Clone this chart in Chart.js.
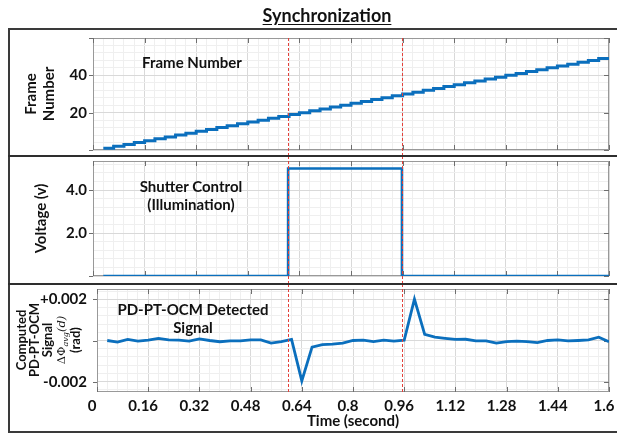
<!DOCTYPE html>
<html>
<head>
<meta charset="utf-8">
<script src="https://cdn.jsdelivr.net/npm/chart.js@4.4.1/dist/chart.umd.min.js"></script>
<style>
html,body{margin:0;padding:0;background:#fff;}
#wrap{position:relative;width:617px;height:434px;overflow:hidden;background:#fff;font-family:Lato,'Open Sans',sans-serif;color:#111;}
canvas{position:absolute;left:0;}
.frame{position:absolute;left:8px;top:28px;width:700px;height:405px;border:2px solid #3a3a3a;box-sizing:border-box;pointer-events:none;}
.sep{position:absolute;left:8px;width:700px;height:2px;background:#2e2e2e;pointer-events:none;}
.lbl{position:absolute;font-weight:bold;text-align:center;white-space:nowrap;line-height:18px;font-size:15px;}
#title{position:absolute;left:177px;width:300px;top:4px;text-align:center;font-weight:bold;font-size:18px;line-height:22px;text-decoration:underline;text-underline-offset:2px;}
#y3title{position:absolute;left:-11px;top:306px;width:120px;height:68px;transform:rotate(-90deg);transform-origin:60px 34px;text-align:center;font-weight:bold;font-size:13px;}
#y3title div{height:13px;line-height:13px;white-space:nowrap;}
#y3title .math{height:15px;line-height:15px;font-family:'DejaVu Serif',serif;font-weight:normal;font-size:11.5px;}
</style>
</head>
<body>
<div id="wrap">
  <canvas id="c1" width="617" height="156" style="top:0px"></canvas>
  <canvas id="c2" width="617" height="128" style="top:156px"></canvas>
  <canvas id="c3" width="617" height="150" style="top:284px"></canvas>
  <div class="frame"></div>
  <div class="sep" style="top:155px"></div>
  <div class="sep" style="top:283px"></div>
  <div id="title">Synchronization</div>
  <div class="lbl" style="left:92px;width:200px;top:53px;">Frame Number</div>
  <div class="lbl" style="left:91px;width:200px;top:177px;">Shutter Control<br>(Illumination)</div>
  <div class="lbl" style="left:93px;width:200px;top:300px;">PD-PT-OCM Detected<br>Signal</div>
  <div id="y3title">
    <div>Computed</div>
    <div>PD-PT-OCM</div>
    <div>Signal</div>
    <div class="math">&Delta;&Phi;<i><sub style="font-size:8px">avg</sub>(d)</i></div>
    <div>(rad)</div>
  </div>
</div>
<script>
// ---------------- data ----------------
const frameTimes = [0.032,0.064,0.096,0.128,0.16,0.192,0.224,0.256,0.288,0.32,
  0.352,0.384,0.416,0.448,0.48,0.512,0.544,0.576,0.608,0.64,
  0.672,0.704,0.736,0.768,0.8,0.832,0.864,0.896,0.928,0.96,
  0.992,1.024,1.056,1.088,1.12,1.152,1.184,1.216,1.248,1.28,
  1.312,1.344,1.376,1.408,1.44,1.472,1.504,1.536,1.568,1.6];
const frameNumbers = [1,2,3,4,5,6,7,8,9,10,
  11,12,13,14,15,16,17,18,19,20,
  21,22,23,24,25,26,27,28,29,30,
  31,32,33,34,35,36,37,38,39,40,
  41,42,43,44,45,46,47,48,49,49];

const shutterTimes = [0.032, 0.605, 0.605, 0.958, 0.958, 1.6];
const shutterVolts = [0, 0, 5, 5, 0, 0];

const signalTimes = [0.032,0.064,0.096,0.128,0.16,0.192,0.224,0.256,0.288,0.32,
  0.352,0.384,0.416,0.448,0.48,0.512,0.544,0.576,0.608,0.64,
  0.672,0.704,0.736,0.768,0.8,0.832,0.864,0.896,0.928,0.96,
  0.992,1.024,1.056,1.088,1.12,1.152,1.184,1.216,1.248,1.28,
  1.312,1.344,1.376,1.408,1.44,1.472,1.504,1.536,1.568,1.6];
const signalValues = [0,-0.00008,0.00005,-0.00003,0.00002,0.0001,0.00003,0.00002,-0.00003,0.00008,
  0,-0.00006,-0.00002,-0.00002,0.00003,0.00003,-0.00013,-0.00005,0.00005,-0.00196,
  -0.00032,-0.0002,-0.00018,-0.00013,0,0.00002,-0.00005,0.00002,-0.00003,0.00002,
  0.00201,0.0003,0.00016,0.0001,0.00005,0.00006,-0.00002,-0.00002,-0.00013,-0.00005,
  -0.00003,-0.00005,-0.0001,0,0.00003,-0.00002,0,0.00003,0.00016,-0.00006];

// marker lines (shutter on / off), in the time axis of the top panels
const markerTimes = [0.605, 0.958];

const xTickLabels = ['0','0.16','0.32','0.48','0.64','0.8','0.96','1.12','1.28','1.44','1.6'];
const frameTickValues = [0,20,40,60];
const frameTickLabels = ['','20','40',''];
const voltTickValues = [0,2,4];
const voltTickLabels = ['','2.0','4.0'];
const signalTickValues = [-0.002,0,0.002];
const signalTickLabels = ['-0.002','','+0.002'];

// ---------------- styling ----------------
const BLUE = '#0b6fbd', RED = '#e4403a', TXT = '#111111';
const MAJ = '#d9d9d9', MIN = '#efefef', BOX = '#999999', TICK = '#6e6e6e';
Chart.defaults.font.family = "Lato, 'Open Sans', sans-serif";
Chart.defaults.color = TXT;

function makeTicks(values, labels, per, min, max){
  const step = (values[1]-values[0])/per, eps = step*1e-6, out = [];
  let start = values[0];
  while (start - step >= min - eps) start -= step;
  for (let i=0;;i++){
    const v = start + i*step;
    if (v > max + eps) break;
    const mi = values.findIndex(m => Math.abs(m - v) < step*0.01);
    out.push({value: mi>=0 ? values[mi] : v, isMajor: mi>=0, lbl: mi>=0 ? labels[mi] : ''});
  }
  return out;
}
const xTickValues = xTickLabels.map(Number);
const xTicks = makeTicks(xTickValues, xTickLabels, 5, 0, 1.6);

function gridColor(c){ return c.tick && c.tick.isMajor ? MAJ : MIN; }
function noPad(s){ s.paddingTop = 0; s.paddingBottom = 0; s.paddingLeft = 0; s.paddingRight = 0; }

function xScale(showLabels, height){
  return {
    type:'linear', min:0, max:1.6, bounds:'data',
    afterBuildTicks: s => { s.ticks = xTicks.map(t => ({...t})); },
    afterFit: s => { s.height = height; noPad(s); },
    grid:{color:gridColor, drawTicks:false},
    border:{display:false},
    ticks:{display:showLabels, autoSkip:false, maxRotation:0, minRotation:0, padding:5, labelOffset:-5,
      font:{size:15, weight:'bold'}, color:TXT, callback:(v,i,tk)=>tk[i].lbl},
    title: showLabels ? {display:true, text:'Time (second)', font:{size:15, weight:'bold'}, color:TXT, padding:{top:0,bottom:4}} : {display:false}
  };
}
function yScale(tickArr, min, max, width, pad, title){
  return {
    type:'linear', min, max, bounds:'data',
    afterBuildTicks: s => { s.ticks = tickArr.map(t => ({...t})); },
    afterFit: s => { s.width = width; noPad(s); },
    grid:{color:gridColor, drawTicks:false},
    border:{display:false},
    ticks:{autoSkip:false, padding:pad, font:{size:15, weight:'bold'}, color:TXT, callback:(v,i,tk)=>tk[i].lbl},
    title: title || {display:false}
  };
}

let topChart = null;   // marker lines run straight through all panels, placed on the top panel's time axis
const decor = {
  id:'decor',
  beforeDatasetsDraw(chart, args, opts){
    const {ctx, chartArea:a, scales:{x, y}} = chart;
    ctx.save();
    ctx.strokeStyle = BOX; ctx.lineWidth = 1;
    ctx.strokeRect(a.left+0.5, a.top+0.5, a.right-a.left-1, a.bottom-a.top-1);
    ctx.strokeStyle = TICK;
    ctx.beginPath();
    x.ticks.forEach(t => {
      if (!t.isMajor) return;
      const px = Math.round(x.getPixelForValue(t.value)) + 0.5;
      ctx.moveTo(px, a.top); ctx.lineTo(px, a.top+5);
      ctx.moveTo(px, a.bottom); ctx.lineTo(px, a.bottom-5);
    });
    y.ticks.forEach(t => {
      if (!t.isMajor) return;
      const py = Math.round(y.getPixelForValue(t.value)) + 0.5;
      ctx.moveTo(a.left-4, py); ctx.lineTo(a.left, py);
      ctx.moveTo(a.right, py); ctx.lineTo(a.right-5, py);
    });
    ctx.stroke();
    ctx.restore();
  },
  afterDatasetsDraw(chart, args, opts){
    const {ctx, chartArea:a} = chart;
    const xs = (topChart || chart).scales.x;
    const y0 = opts.from === 'area' ? a.top : 0;
    const y1 = opts.to === 'area' ? a.bottom : chart.height;
    ctx.save();
    ctx.strokeStyle = RED; ctx.lineWidth = 1; ctx.setLineDash([3,2]);
    markerTimes.forEach(t => {
      const px = Math.round(xs.getPixelForValue(t)) + 0.5;
      ctx.beginPath(); ctx.moveTo(px, y0); ctx.lineTo(px, y1); ctx.stroke();
    });
    ctx.restore();
  }
};

function baseOpts(padding, decorOpts, scales){
  return {
    responsive:false, animation:false, devicePixelRatio:1,
    layout:{padding},
    plugins:{legend:{display:false}, tooltip:{enabled:false}, decor:decorOpts},
    scales
  };
}

// Panel 1: frame number
topChart = new Chart(document.getElementById('c1'), {
  type:'line',
  data:{datasets:[{data: frameTimes.map((t,i)=>({x:t, y:frameNumbers[i]})),
    borderColor:BLUE, borderWidth:3, pointRadius:0, stepped:true, fill:false}]},
  options: baseOpts({top:38, right:8, bottom:6, left:0}, {from:'area', to:'canvas'}, {
    x: xScale(false, 0),
    y: yScale(makeTicks(frameTickValues, frameTickLabels, 5, 0, 60), 0, 60, 93, 6,
      {display:true, text:['Frame','Number'], font:{size:15, weight:'bold'}, color:TXT, padding:{top:22, bottom:0}})
  }),
  plugins:[decor]
});

// Panel 2: shutter control
new Chart(document.getElementById('c2'), {
  type:'line',
  data:{datasets:[{data: shutterTimes.map((t,i)=>({x:t, y:shutterVolts[i]})),
    borderColor:BLUE, borderWidth:2.6, pointRadius:0, fill:false}]},
  options: baseOpts({top:5, right:8, bottom:8, left:0}, {from:'canvas', to:'canvas'}, {
    x: xScale(false, 0),
    y: yScale(makeTicks(voltTickValues, voltTickLabels, 5, 0, 5.35), 0, 5.35, 93, 6,
      {display:true, text:'Voltage (v)', font:{size:15, weight:'bold'}, color:TXT, padding:{top:32, bottom:0}})
  }),
  plugins:[decor]
});

// Panel 3: detected signal
new Chart(document.getElementById('c3'), {
  type:'line',
  data:{datasets:[{data: signalTimes.map((t,i)=>({x:t, y:signalValues[i]})),
    borderColor:BLUE, borderWidth:2.8, pointRadius:0, tension:0, fill:false}]},
  options: baseOpts({top:5, right:8, bottom:0, left:0}, {from:'canvas', to:'area'}, {
    x: xScale(true, 42),
    y: yScale(makeTicks(signalTickValues, signalTickLabels, 5, -0.0025, 0.0025), -0.0025, 0.0025, 97, 10, null)
  }),
  plugins:[decor]
});
</script>
</body>
</html>
